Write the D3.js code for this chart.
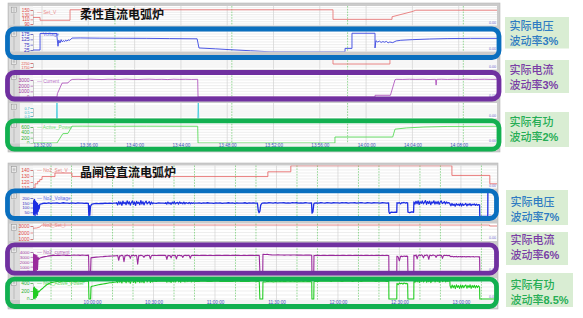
<!DOCTYPE html>
<html><head><meta charset="utf-8">
<script src="https://cdn.jsdelivr.net/npm/d3@7/dist/d3.min.js"></script>
<style>html,body{margin:0;padding:0;background:#fff;}svg{display:block;}</style>
</head><body>
<svg id="chart" width="583" height="318"></svg>
<script>
// helper: regularly spaced samples over a time span (values typed by hand)
function seg(t0, t1, vals){ return vals.map((v,i)=>[t0+(t1-t0)*i/(vals.length-1), v]); }

// ================= DATA =================
// time = minutes since 00:00
// ---- top: 柔性直流电弧炉 ----
const topTitle = "柔性直流电弧炉";
const topTimeTicks = [812,816,820,824,828,832,836,840,844,848];
const topGreenGrid = [818.3,828.4,838.4,848.4];
const topSetVTicks = [90,110,130,150];
const topVoltageTicks = [25,75,125,175];
const topSetITicks = [1750,2250];
const topCurrentTicks = [0,1000,2000,3000];
const topCyanTicks = [0.3,0.5,0.7];
const topPowerTicks = [0,200,400,600];

const topSetV = [[811.22,118],[811.83,118],[811.83,106],[814.42,106],[814.42,151],[837.14,151],[837.14,110],[842.24,110],[842.24,121],[843.96,143],[844.3,149],[851.31,149]];
const topVoltage = [[811.22,25],[811.83,25],[811.83,180],[813.29,180],[813.29,150],[813.38,60],[813.45,118],[813.55,90],[813.65,122],[813.75,100],[813.85,114],[813.95,104],[814.05,118],[814.15,108],[814.25,120],[814.4,116],[814.59,137],[815.3,138],[817,136],[819,135],[821,134],[823,132],[825.4,130],[825.56,44],[827,36],[828.24,28],[830,18],[831.7,8],[835,7],[838.18,8],[838.18,40],[838.78,40],[838.78,182],[840.77,182],[840.77,44],[840.85,112],[841.0,100],[841.15,108],[841.3,96],[841.45,104],[841.6,98],[841.75,106],[841.9,92],[842.05,100],[842.3,94],[842.6,110],[843,116],[844,122],[845.5,128],[847,132],[849,134],[851.31,134]];
const topSetI = [[811.22,3200],[837.14,3200],[837.14,2125],[842.06,2125],[842.06,3200],[851.31,3200]];
const topCurrent = [].concat(
  [[811.22,0],[813.29,0],[813.33,600],[813.73,2450],[814.24,2480],[814.42,2900]],
  seg(814.6,825.45,[3100,3130,3090,3150,3110,3080,3140,3120,3100,3160,3110,3090,3130,3150,3100,3120,3080,3140,3110,3130,3100,3120]),
  [[825.48,0],[840.77,0],[840.77,300],[842.1,300],[842.5,3050]],
  seg(842.6,846.0,[3120,3100,3140,3110,3130,3090,3120]),
  [[846.05,2100],[846.1,3120]],
  seg(846.5,851.31,[3140,3100,3130,3110,3150,3100,3120,3140,3110,3130])
);
const topCyan = [[811.22,0],[813.25,0],[813.29,0.95],[813.33,0],[825.45,0],[825.5,0.95],[825.55,0],[851.31,0]];
const topPower = [[811.22,0],[813.29,0],[813.8,350],[814.24,360],[814.59,630],[815.5,632],[818,628],[821,631],[825.45,628],[825.48,0],[837.31,0],[837.31,225],[842.3,225],[842.5,520],[843.5,565],[845,600],[847,620],[851.31,628]];

// ---- bottom: 晶闸管直流电弧炉 ----
const botTitle = "晶闸管直流电弧炉";
const botTimeTicks = [600,630,660,690,720,750,780];
const botGreenGrid = [580,590,610,620,640,650,670,680,700,710,730,740,760,770,790];
const botSetVTicks = [110,120,130,140];
const botVoltageTicks = [0,50,100,150,200];
const botSetITicks = [1000,2000,3000];
const botCurrentTicks = [0,1000,2000,3000,4000];
const botPowerTicks = [0,200,400];

const botSetV = [[571.2,110],[572.2,110],[572.2,117],[573.5,117],[573.5,121],[574.5,121],[574.5,124],[575.6,124],[575.6,129],[581.9,129],[581.9,135],[590.2,135],[590.2,129],[685.8,129],[685.8,137],[697,137],[697,147],[775.6,147],[775.6,131],[794.1,131],[794.1,117],[797.6,117]];
const botSetI = [[571.2,2650],[573,2700],[574.5,2850],[575.5,3150],[794,3150],[794,3000],[797.6,3000]];
const botVoltage = [].concat(
  [[571.2,20],[571.45,170],[571.7,30],[571.95,185],[572.2,10],[572.45,165],[572.7,40],[572.95,150],[573.2,25],[573.45,140],[573.7,60],[573.95,120],[574.2,85],[574.5,132]],
  seg(574.8,598.2,[135,142,146,144,148,143,147,145,149,144,146,150,145,147,143,148,146,144,149,145,147,143,146,144]),
  [[598.45,15],[598.7,120],[598.95,20],[599.25,110],[599.7,130]],
  seg(600,611.8,[136,140,142,141,144,142,145,143,146,144,147,145]),
  seg(612,630,[150,128,162,135,158,124,166,140,155,130,170,138,160,126,152,168,134,158,122,164,142,156,130,172,136,160,128,154,166,138,150,162,132,158,140,148]),
  seg(630.3,635.8,[146,143,148,145,147,144]),
  seg(636,650,[152,136,158,140,150,134,156,142,160,138,148,154,136,158,144,150,140,156,138,152,146,142,154,140,150,144,148,146]),
  seg(650.3,680.7,[147,145,149,144,148,146,150,145,147,143,148,146,149,144,147,145,150,146,148,144,149,145,147,146,150,144,148,146,149,145,147]),
  [[681.1,70],[681.5,45],[681.9,60],[682.3,125],[682.8,142]],
  seg(683.2,707.1,[146,149,147,150,148,146,151,147,149,148,150,146,149,147,151,148,150,147,149,146,150,148,147,149]),
  [[707.35,40],[707.8,55],[708.2,135]],
  seg(708.5,744.7,[147,149,146,150,148,147,151,149,146,150,148,149,147,151,148,150,146,149,148,150,147,149,151,148,146,150,149,147,150,148,149,147,150,148,146,149]),
  [[744.86,55],[745.2,38],[746,52],[747,48],[748,52],[748.7,50]],
  seg(748.8,754,[150,146,152,138,150,148,153,147,150,149]),
  [[754.13,52],[755,46],[756,53],[756.9,50]],
  seg(757.05,774.5,[158,136,165,140,170,132,160,145,168,138,155,172,134,162,142,166,130,158,148,170,136,160,140,164,134,156,168,142,150,162,138,158,146,152,144]),
  seg(774.6,789.1,[138,118,142,122,136,114,140,126,134,120,144,116,138,124,132,142,118,136,126,140,120,134,128,138,122,136,124,130,128]),
  [[789.2,8],[793.1,6],[793.15,260],[797.6,260]]
);
const botCurrent = [].concat(
  [[571.2,0],[571.45,3600],[571.7,150],[571.95,3500],[572.2,0],[572.5,3400],[572.8,100],[573.1,3300],[573.4,400],[573.7,2900],[574.0,2500],[574.4,2700]],
  seg(575,598.3,[2800,2950,3050,3120,3200,3250,3300,3280,3350,3300,3320,3380,3300,3350,3280,3330,3400,3320,3360,3300,3380,3340,3300,3360]),
  [[598.5,0],[599.3,0],[599.5,2800]],
  seg(600,611.8,[2850,2900,2950,2980,3020,3050,3100,3120,3150,3180,3200,3220]),
  seg(612,630,[3250,3300,2300,3280,3200,3350,3250,2000,3300,3220,3380,3250,3300,2700,3320,3250,3350,3200,3300,3280,1500,3320,3250,3350,3280,3200,2900,3300,3250,3350,3280,3300,2600,3250,3320,3280]),
  seg(630.3,635.8,[3300,3280,3320,3300,3340,3300]),
  seg(636,650,[3280,2500,3320,3250,3300,2800,3350,3280,3250,3320,2600,3300,3280,3340,3250,3300,2900,3280,3320,3300,3260,3340,3300,2700,3280,3320,3300,3280]),
  seg(650.3,681.6,[3300,3320,3280,3340,3300,3310,3290,3330,3300,3280,3320,3300,3340,3290,3310,3300,3330,3280,3320,3300,3310,3340,3290,3300,3320,3280,3330,3300,3310,3290,3320,3300]),
  [[681.9,0],[683.3,0],[683.4,3500]],
  seg(683.5,707.2,[3550,3480,3520,3450,3420,3400,3380,3420,3400,3380,3360,3400,3380,3350,3370,3390,3360,3350,3380,3340,3360,3350,3370,3340]),
  [[707.3,0],[708.2,0],[708.3,3300]],
  seg(708.5,744.8,[3280,3300,3320,3290,3310,3300,3280,3320,3300,3310,3290,3300,3280,3310,3300,3290,3320,3300,3280,3300,3310,3290,3300,3280,3310,3300,3290,3320,3280,3300,3310,3290,3300,3280,3300,3290]),
  [[744.86,0],[748.7,0],[748.76,3100]],
  seg(748.8,754,[3150,3000,2200,3100,3150,3050,3200,3100,3150,3100]),
  [[754.13,0],[757.0,0],[757.05,3300]],
  seg(757.1,774.6,[3350,3200,3400,2600,3300,3380,3250,3420,3300,2800,3350,3280,3400,3320,2500,3380,3300,3250,3400,3320,3280,2900,3350,3300,3380,3250,3320,2700,3300,3350,3280,3320,3250,3300,3280]),
  seg(774.7,789.1,[3100,3050,3120,3000,3080,3020,3100,2980,3060,3020,3080,3000,3050,3020,3070,2990,3050,3010,3060,3000,3040,3020,3050,2990,3030,3010,3040,3000,3020]),
  [[789.2,0],[797.6,0]]
);
const botPower = [].concat(
  [[571.2,0],[571.45,280],[571.7,20],[571.95,300],[572.2,0],[572.5,260],[572.8,40],[573.1,240],[573.4,80],[573.7,200],[574.1,180],[574.6,210]],
  seg(575,598.3,[230,270,320,360,390,410,420,430,445,425,440,450,430,445,435,455,440,430,450,440,445,435,450,440]),
  [[598.5,0],[599.3,0],[599.5,300]],
  seg(600,611.8,[320,330,345,355,365,375,385,395,405,410,420,425]),
  seg(612,630,[450,410,480,420,470,400,490,430,460,405,485,425,470,395,455,480,415,470,400,490,430,465,410,485,420,470,405,460,490,425,455,475,415,465,430,450]),
  seg(630.3,635.8,[445,440,450,445,448,442]),
  seg(636,650,[455,420,470,430,460,415,465,435,470,425,455,475,430,460,420,465,440,455,425,470,435,450,440,460,430,450,445,448]),
  seg(650.3,681.6,[440,445,438,448,442,446,440,444,438,446,442,448,440,445,439,447,441,445,440,446,442,448,439,445,441,444,440,446,442,445,440,444]),
  [[681.9,0],[683.3,0],[683.4,420]],
  seg(683.5,707.2,[430,425,440,430,435,428,438,432,436,430,440,434,430,437,432,438,430,435,433,438,431,436,434,432]),
  [[707.3,0],[708.2,0],[708.3,430]],
  seg(708.5,744.8,[440,445,438,448,442,446,450,444,440,448,445,442,447,440,446,449,443,447,441,446,450,444,440,447,443,446,449,442,446,440,445,448,443,446,441,445]),
  [[744.86,0],[748.7,0],[748.76,380]],
  seg(748.8,754,[390,360,400,380,395,370,400,385,390,380]),
  [[754.13,0],[757,0],[757.05,420]],
  seg(757.1,774.6,[450,420,470,430,480,415,460,440,475,425,455,485,420,465,435,470,410,460,445,480,425,465,440,470,420,455,475,435,450,465,430,460,440,455,445]),
  seg(774.7,789.1,[330,270,350,280,340,260,355,290,335,265,350,275,345,280,330,350,270,340,285,355,265,340,290,345,275,335,285,330,300]),
  [[789.2,0],[797.6,0]]
);

// right-side annotation labels
const labelLine1 = ["实际电压","实际电流","实际有功","实际电压","实际电流","实际有功"];
const labelRate = ["3%","3%","2%","7%","6%","8.5%"];

// ================= LAYOUT / DRAW =================
const svg = d3.select('#chart');
const FONT = "'Liberation Sans', Arial, sans-serif";
const CJK = "'Noto Sans CJK SC', sans-serif";
const C = {red:'#e04646', blue:'#3434c4', purple:'#a03aa0', cyan:'#2fb0c8', green:'#2fb02f'};

function fmtTime(m){
  const p = n => String(n).padStart(2,'0');
  const h = Math.floor(m/60), mi = Math.floor(m%60), s = Math.round((m*60)%60);
  return p(h)+':'+p(mi)+':'+p(s);
}

const panels = [
  {id:'t', x0:8, x1:500, y0:3, y1:152, px0:33, px1:497, tDomain:[811.22,851.31], ticks:topTimeTicks, green:topGreenGrid, labelY:146.5, labelRow:[143.5,150.5],
   strips:[
    {y0:6, y1:25.5, dom:[90,150], rng:[24,10], ticks:topSetVTicks, tc:C.red, lc:'#e66a6a', data:topSetV, legend:'— Set_V', lx:37, ly:13.8, fs:4.6},
    {y0:29.5, y1:51.5, dom:[25,175], rng:[50,34], ticks:topVoltageTicks, tc:C.blue, lc:'#3a46e2', data:topVoltage, legend:'Voltage', lx:43, ly:35.8, sw:0.9, fs:5},
    {y0:57.5, y1:69.5, dom:[1750,2250], rng:[67,63], ticks:topSetITicks, tc:C.red, lc:'#e66a6a', data:topSetI, fs:3.6},
    {y0:72.5, y1:98.5, dom:[0,3000], rng:[97,80], ticks:topCurrentTicks, tc:C.purple, lc:'#a844b8', data:topCurrent, legend:'— Current', lx:37, ly:82.5, fs:5},
    {y0:103, y1:118.5, dom:[0.3,0.7], rng:[116,108], ticks:topCyanTicks, tc:C.cyan, lc:'#38c8da', data:topCyan, fs:3.6},
    {y0:121, y1:143.5, dom:[0,600], rng:[143,127], ticks:topPowerTicks, tc:C.green, lc:'#46d846', data:topPower, legend:'— Active_Power', lx:37, ly:128.5, fs:5}
   ]},
  {id:'b', x0:8, x1:498, y0:163, y1:309, px0:33, px1:497, tDomain:[571.2,797.6], ticks:botTimeTicks, green:botGreenGrid, labelY:303.5, labelRow:[300,307.5],
   strips:[
    {y0:165.5, y1:188.5, dom:[110,140], rng:[188,170], ticks:botSetVTicks, tc:C.red, lc:'#e45a5a', data:botSetV, legend:'— No2_Set_V', lx:37, ly:171.5, fs:5},
    {y0:192, y1:218.5, dom:[0,200], rng:[217,198], ticks:botVoltageTicks, tc:C.blue, lc:'#1d2ee2', data:botVoltage, legend:'— No2_Voltage', lx:37, ly:199.5, sw:1.3, fs:4.4},
    {y0:223.5, y1:241, dom:[1000,3000], rng:[239,226], ticks:botSetITicks, tc:C.red, lc:'#e87070', data:botSetI, legend:'No2_Set_I', lx:43, ly:227, fs:5},
    {y0:245.5, y1:272.5, dom:[0,4000], rng:[271.5,252], ticks:botCurrentTicks, tc:C.purple, lc:'#9a2a9c', data:botCurrent, legend:'— No2_current', lx:37, ly:253.5, sw:1.1, fs:4.4},
    {y0:278.5, y1:300, dom:[0,400], rng:[299,283], ticks:botPowerTicks, tc:C.green, lc:'#22cc22', data:botPower, legend:'— No2_Active_Power', lx:37, ly:284.5, sw:1.1, fs:5}
   ]}
];

const defs = svg.append('defs');

panels.forEach(P => {
  const g = svg.append('g');
  g.append('rect').attr('x',P.x0).attr('y',P.y0).attr('width',P.x1-P.x0).attr('height',P.y1-P.y0)
    .attr('fill','#cbcbcb').attr('stroke','#b8b8b8').attr('stroke-width',0.6);
  const x = d3.scaleLinear().domain(P.tDomain).range([P.px0,P.px1]);

  P.strips.forEach((s,i) => {
    const y = d3.scaleLinear().domain(s.dom).range(s.rng);
    const h = s.y1 - s.y0;
    g.append('rect').attr('x',P.x0+1).attr('y',s.y0).attr('width',11).attr('height',h).attr('fill','#dcdcdc');
    g.append('rect').attr('x',P.x0+12).attr('y',s.y0).attr('width',P.px0-P.x0-12).attr('height',h).attr('fill','#f5f5f5');
    g.append('rect').attr('x',P.px0).attr('y',s.y0).attr('width',P.px1-P.px0).attr('height',h).attr('fill','#ffffff');

    // horizontal grid at ticks and midpoints
    const tk = s.ticks.slice().sort((a,b)=>a-b);
    const hv = tk.slice();
    for (let k=0;k<tk.length-1;k++) hv.push((tk[k]+tk[k+1])/2);
    hv.push(tk[tk.length-1] + (tk[1]!==undefined ? (tk[1]-tk[0])/2 : 0));
    hv.forEach(v => {
      const yy = y(v);
      if (yy > s.y0 && yy < s.y1) g.append('line').attr('x1',P.px0).attr('x2',P.px1).attr('y1',yy).attr('y2',yy)
        .attr('stroke','#e3e3e3').attr('stroke-width',0.6);
    });
    // vertical grid
    P.ticks.forEach(t => g.append('line').attr('x1',x(t)).attr('x2',x(t)).attr('y1',s.y0).attr('y2',s.y1)
        .attr('stroke','#d2d2d2').attr('stroke-width',0.7));
    P.green.forEach(t => g.append('line').attr('x1',x(t)).attr('x2',x(t)).attr('y1',s.y0).attr('y2',s.y1)
        .attr('stroke','#6cc86c').attr('stroke-width',0.7).attr('stroke-dasharray','1.6,1.2'));

    // scroll handle
    g.append('rect').attr('x',P.x0+3.5).attr('y',s.y0+1.2).attr('width',5).attr('height',5.5)
      .attr('fill','#f3f3f3').attr('stroke','#8a8a8a').attr('stroke-width',0.5);
    [2.8,4,5.2].forEach(d => g.append('line').attr('x1',P.x0+4.6).attr('x2',P.x0+7.4).attr('y1',s.y0+d).attr('y2',s.y0+d)
      .attr('stroke','#777').attr('stroke-width',0.4));
    g.append('line').attr('x1',P.x0+6).attr('x2',P.x0+6).attr('y1',s.y0+7.5).attr('y2',s.y1-1)
      .attr('stroke','#9a9a9a').attr('stroke-width',0.5);

    // y axis
    const ax = g.append('g').attr('transform',`translate(${P.px0},0)`)
      .call(d3.axisLeft(y).tickValues(s.ticks).tickSize(2.5).tickPadding(1).tickFormat(d=>String(d)));
    ax.select('.domain').attr('stroke','#999').attr('stroke-width',0.5);
    ax.selectAll('.tick line').attr('stroke',s.tc).attr('stroke-width',0.6);
    ax.selectAll('.tick text').attr('fill',s.tc).style('font-size',(s.fs||5)+'px').style('font-family',FONT);
    ax.selectAll('.tick').filter(d => y(d) < s.y0-0.5 || y(d) > s.y1+0.5).remove();

    // trace
    const cid = 'clip'+P.id+i;
    defs.append('clipPath').attr('id',cid).append('rect').attr('x',P.px0).attr('y',s.y0).attr('width',P.px1-P.px0).attr('height',h);
    g.append('path').datum(s.data).attr('clip-path',`url(#${cid})`)
      .attr('d', d3.line().x(d=>x(d[0])).y(d=>y(d[1])))
      .attr('fill','none').attr('stroke',s.lc).attr('stroke-width',s.sw||0.8).attr('stroke-linejoin','round');

    if (s.legend) g.append('text').attr('x',s.lx).attr('y',s.ly).text(s.legend)
      .attr('fill',s.lc).attr('opacity',0.75).style('font-size','4.8px').style('font-family',FONT);
    // small right value label
    g.append('text').attr('x',P.px1-1).attr('y',s.y1-2).attr('text-anchor','end').text('0.00')
      .attr('fill','#6a6ad0').style('font-size','3.6px').style('font-family',FONT);
  });

  // time axis row
  g.append('rect').attr('x',P.x0+12).attr('y',P.labelRow[0]).attr('width',P.px1-P.x0-12).attr('height',P.labelRow[1]-P.labelRow[0]).attr('fill','#f3f3f3');
  const xa = g.append('g').attr('transform',`translate(0,${P.labelY-2.5})`)
    .call(d3.axisBottom(x).tickValues(P.ticks).tickSize(0).tickPadding(0).tickFormat(fmtTime));
  xa.select('.domain').remove();
  xa.selectAll('.tick text').attr('fill','#3b50b8').style('font-size','4.6px').style('font-family',FONT);
});

// titles
svg.append('text').attr('x',80).attr('y',19).text(topTitle)
  .attr('fill','#111').style('font-size','12px').style('font-weight','700').style('font-family',CJK);
svg.append('text').attr('x',80).attr('y',177).text(botTitle)
  .attr('fill','#111').style('font-size','12px').style('font-weight','700').style('font-family',CJK);

// highlight frames
const frameColors = ['#0a6fbf','#7030a0','#12b050','#0a6fbf','#7030a0','#12b050'];
const frames = [[7.5,29,491.5,28.5],[7.5,72.5,491.5,26.5],[7.5,120.8,491.5,28.4],
                [7.5,190.8,489,27.7],[7.5,244.8,489,28.4],[7.5,279.2,489,27.3]];
frames.forEach((f,i)=> svg.append('rect').attr('x',f[0]).attr('y',f[1]).attr('width',f[2]).attr('height',f[3])
  .attr('rx',7).attr('fill','none').attr('stroke',frameColors[i]).attr('stroke-width',4.8));

// annotation boxes
const textColors = ['#2f7cc2','#7a3ea6','#26ad55','#2f7cc2','#7a3ea6','#26ad55'];
const boxes = [[505,17,64,31.5],[505,60,64,33],[505,112,64,35],[506,190,62,35],[506,232,62,33],[506,273,67,34]];
const line1Y = [30.0,74.0,126.2,205.6,244.0,288.6];
const line2Y = [45.0,89.0,141.2,220.9,259.0,303.6];
boxes.forEach((b,i)=>{
  svg.append('rect').attr('x',b[0]).attr('y',b[1]).attr('width',b[2]).attr('height',b[3]).attr('fill','#d9edd3');
  svg.append('text').attr('x',b[0]+4.5).attr('y',line1Y[i]).text(labelLine1[i])
    .attr('fill',textColors[i]).style('font-size','11px').style('font-family',CJK).style('font-weight','500');
  const t2 = svg.append('text').attr('x',b[0]+4.5).attr('y',line2Y[i])
    .attr('fill',textColors[i]).style('font-size','11px').style('font-family',CJK);
  t2.append('tspan').text('波动率').style('font-weight','500');
  t2.append('tspan').text(labelRate[i]).style('font-weight','700').style('font-family',"'Liberation Sans', Arial, sans-serif");
});
</script>
</body></html>
